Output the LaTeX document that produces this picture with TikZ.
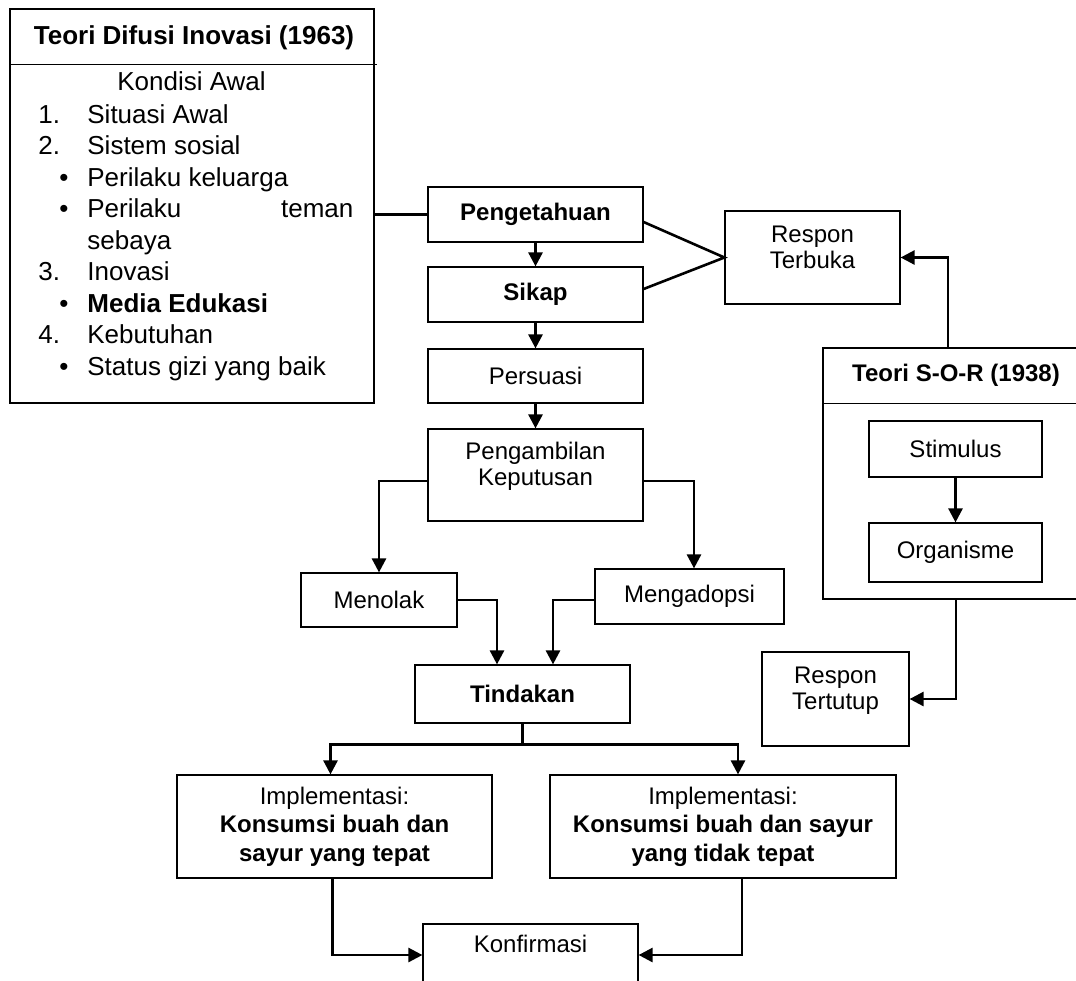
\documentclass[tikz,border=0pt]{standalone}
\usepackage{fontspec}
\setmainfont{Liberation Sans}
\usetikzlibrary{arrows.meta,calc}

\newcommand{\naik}[1]{\raisebox{3.75pt}[\height][\depth]{\begin{tabular}{@{}c@{}}#1\end{tabular}}}

\begin{document}
\begin{tikzpicture}[x=0.5pt,y=-0.5pt,
    every node/.style={font=\fontsize{12}{13}\selectfont},
    kotak/.style={draw,line width=0.6pt,inner sep=0pt,align=center},
    tebal/.style={font=\fontsize{12}{13}\selectfont\bfseries},
    lst/.style={font=\fontsize{13}{15}\selectfont,anchor=base west,inner sep=0pt},
    garis/.style={line width=1.3pt},
    panah/.style={garis,-{Triangle[length=7pt,width=7pt]}}]
  \useasboundingbox (0,0) rectangle (1076,980);

  % teori difusi inovasi
  \node[kotak,minimum width=182pt,minimum height=197pt] (difusi) at (192,206) {};
  \draw[line width=0.6pt] ($(difusi.north west)+(0,56)$) -- ($(difusi.north east)+(2,56)$);
  \node[lst,font=\fontsize{13}{15}\selectfont\bfseries,anchor=base] (difusijudul) at (194,44) {Teori Difusi Inovasi (1963)};
  \node[lst,anchor=base] (kondisi) at (191.5,90) {Kondisi Awal};
  \foreach \i/\teks in {0/Situasi Awal,1/Sistem sosial,2/Perilaku keluarga,
      3/\hbox to 133pt{Perilaku\hfill teman},4/sebaya,5/Inovasi,
      6/\textbf{Media Edukasi},7/Kebutuhan,8/Status gizi yang baik}
    \node[lst] (isi\i) at (87,123+31.5*\i) {\teks};
  \foreach \i/\n in {0/1.,1/2.,5/3.,7/4.}
    \node[lst] (no\i) at (38,123+31.5*\i) {\n};
  \foreach \i in {2,3,6,8}
    \node[lst,anchor=base] (bl\i) at (64,123+31.5*\i) {\textbullet};

  % tahapan
  \node[kotak,tebal,minimum width=107.5pt,minimum height=27.5pt] (tahu) at (535.5,214.5) {Pengetahuan};
  \node[kotak,tebal,minimum width=107.5pt,minimum height=27.5pt] (sikap) at (535.5,294.5) {Sikap};
  \node[kotak,minimum width=107.5pt,minimum height=27pt] (persuasi) at (535.5,376) {Persuasi};
  \node[kotak,minimum width=107.5pt,minimum height=46pt] (ambil) at (535.5,475) {\naik{Pengambilan\\Keputusan}};
  \node[kotak,minimum width=78pt,minimum height=27pt] (menolak) at (379,600) {Menolak};
  \node[kotak,minimum width=94.5pt,minimum height=27.5pt] (adopsi) at (689.5,596.5) {Mengadopsi};
  \node[kotak,tebal,minimum width=107.5pt,minimum height=29pt] (tindakan) at (522.5,694) {Tindakan};
  \node[kotak,font=\fontsize{12}{14.25}\selectfont,minimum width=157.5pt,minimum height=51.5pt] (tepat) at (334.5,826.5)
    {Implementasi:\\\textbf{Konsumsi buah dan}\\\textbf{sayur yang tepat}};
  \node[kotak,font=\fontsize{12}{14.25}\selectfont,minimum width=173pt,minimum height=51.5pt] (tidaktepat) at (723,826.5)
    {Implementasi:\\\textbf{Konsumsi buah dan sayur}\\\textbf{yang tidak tepat}};
  \node[kotak,minimum width=107.5pt,minimum height=31pt] (konfirmasi) at (530.5,955) {\naik{Konfirmasi}};

  % teori S-O-R
  \node[kotak,minimum width=87.5pt,minimum height=46.5pt] (terbuka) at (812.5,257.5) {\naik{Respon\\Terbuka}};
  \node[kotak,minimum width=133pt,minimum height=125.5pt] (sor) at (956,473.5) {};
  \draw[line width=0.6pt] ($(sor.north west)+(0,56)$) -- ($(sor.north east)+(0,56)$);
  \node[tebal,anchor=base] (sorjudul) at (956,381) {Teori S-O-R (1938)};
  \node[kotak,minimum width=86.5pt,minimum height=28pt] (stimulus) at (955.5,449) {Stimulus};
  \node[kotak,minimum width=86.5pt,minimum height=29.5pt] (organisme) at (955.5,552.5) {Organisme};
  \node[kotak,minimum width=73.5pt,minimum height=47pt] (tertutup) at (835.5,699) {\naik{Respon\\Tertutup}};

  % panah
  \draw[garis] (tahu.west -| difusi.east) -- (tahu.west);
  \draw[panah] (tahu) -- (sikap);
  \draw[panah] (sikap) -- (persuasi);
  \draw[panah] (persuasi) -- (ambil);
  \draw[garis] ($(tahu.east)+(0,7.5)$) -- (terbuka.west) -- ($(sikap.east)+(0,-5.5)$);
  \draw[panah] ($(sor.north)+(-8,0)$) |- (terbuka.east);
  \draw[panah] (stimulus) -- (organisme);
  \draw[panah] (sor.south) |- (tertutup.east);
  \draw[panah] ($(ambil.west)+(0,6)$) -| (menolak.north);
  \draw[panah] ($(ambil.east)+(0,6)$) -| ($(adopsi.north)+(4.5,0)$);
  \draw[panah] (menolak.east) -| ($(tindakan.north)+(-25.5,0)$);
  \draw[panah] ($(adopsi.west)+(0,3.5)$) -| ($(tindakan.north)+(30.5,0)$);
  \draw[garis] (tindakan.south) -- ++(0,21) coordinate (cabang);
  \draw[panah] (cabang) -| ($(tepat.north)+(-4,0)$);
  \draw[panah] (cabang) -| ($(tidaktepat.north)+(15,0)$);
  \draw[panah] ($(tepat.south)+(-2,0)$) |- (konfirmasi.west);
  \draw[panah] ($(tidaktepat.south)+(19,0)$) |- (konfirmasi.east);
\end{tikzpicture}
\end{document}
